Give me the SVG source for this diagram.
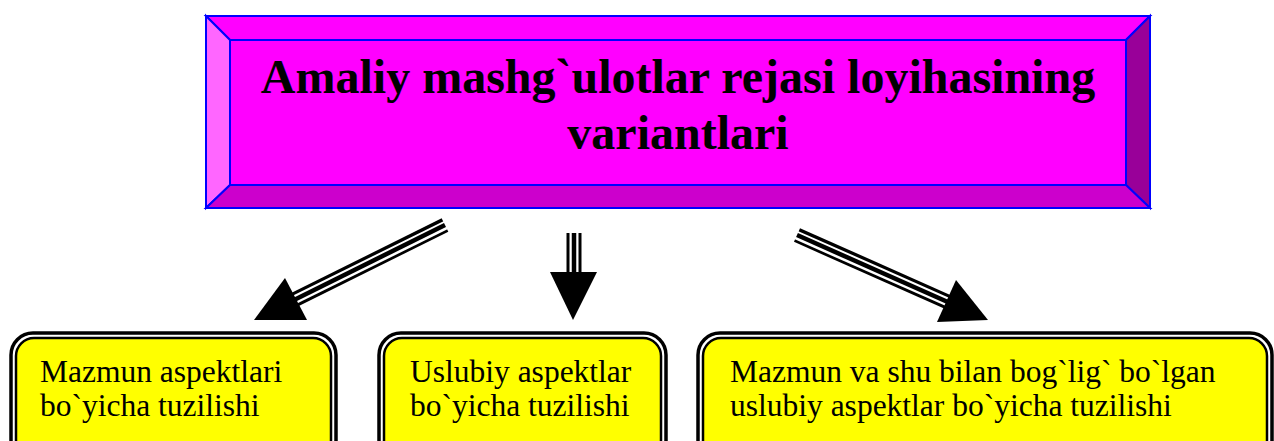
<svg xmlns="http://www.w3.org/2000/svg" width="1274" height="441" viewBox="0 0 1274 441">
<style>
.bev{stroke:#0000FF;stroke-width:2;stroke-linejoin:miter}
.title{font-family:"Liberation Serif",serif;font-weight:bold;font-size:48px;fill:#000;text-anchor:middle}
.lbl{font-family:"Liberation Serif",serif;font-size:31.5px;fill:#000}
.o{fill:#fff;stroke:#000;stroke-width:3.5}
.i{fill:#FFFF00;stroke:#000;stroke-width:2.5}
.s1{stroke:#000;stroke-width:15;fill:none}
.s2{stroke:#fff;stroke-width:9;fill:none}
.s3{stroke:#000;stroke-width:4.5;fill:none}
.hd{fill:#000}
</style>
<rect width="1274" height="441" fill="#fff"/>
<g id="title">
<polygon class="bev" fill="#FF00FF" points="206,16 1150,16 1126,40 230,40"/>
<polygon class="bev" fill="#FF66FF" points="206,16 230,40 230,185 206,208"/>
<polygon class="bev" fill="#990099" points="1150,16 1150,208 1126,185 1126,40"/>
<polygon class="bev" fill="#CC00CC" points="206,208 230,185 1126,185 1150,208"/>
<rect class="bev" fill="#FF00FF" x="230" y="40" width="896" height="145"/>
<text class="title" x="678" y="93">Amaliy mashg`ulotlar rejasi loyihasining</text>
<text class="title" x="678" y="149">variantlari</text>
</g>
<g id="connectors">
<g id="a1">
<line class="s1" x1="445" y1="225" x2="292" y2="301"/>
<line class="s2" x1="446" y1="225" x2="292" y2="301"/>
<line class="s3" x1="445" y1="225" x2="292" y2="301"/>
<polygon class="hd" points="285,278 307,320 254,320"/>
</g>
<g id="a2">
<line class="s1" x1="574" y1="233" x2="574" y2="275"/>
<line class="s2" x1="574" y1="232" x2="574" y2="275"/>
<line class="s3" x1="574" y1="233" x2="574" y2="275"/>
<polygon class="hd" points="550,272 597,272 573,320"/>
</g>
<g id="a3">
<line class="s1" x1="797" y1="235" x2="950" y2="303"/>
<line class="s2" x1="796" y1="235" x2="950" y2="303"/>
<line class="s3" x1="797" y1="235" x2="950" y2="303"/>
<polygon class="hd" points="956,280 937,322 988,320"/>
</g>
</g>
<g id="b1">
<rect class="o" x="11" y="333" width="325" height="130" rx="22"/>
<rect class="i" x="16" y="338" width="315" height="120" rx="18"/>
<text class="lbl" x="40" y="382">Mazmun aspektlari</text>
<text class="lbl" x="40" y="416">bo`yicha tuzilishi</text>
</g>
<g id="b2">
<rect class="o" x="379" y="333" width="287" height="130" rx="22"/>
<rect class="i" x="384" y="338" width="277" height="120" rx="18"/>
<text class="lbl" x="410" y="382">Uslubiy aspektlar</text>
<text class="lbl" x="410" y="416">bo`yicha tuzilishi</text>
</g>
<g id="b3">
<rect class="o" x="698" y="333" width="574" height="130" rx="22"/>
<rect class="i" x="703" y="338" width="564" height="120" rx="18"/>
<text class="lbl" x="730" y="382">Mazmun va shu bilan bog`lig` bo`lgan</text>
<text class="lbl" x="730" y="416">uslubiy aspektlar bo`yicha tuzilishi</text>
</g>
</svg>
